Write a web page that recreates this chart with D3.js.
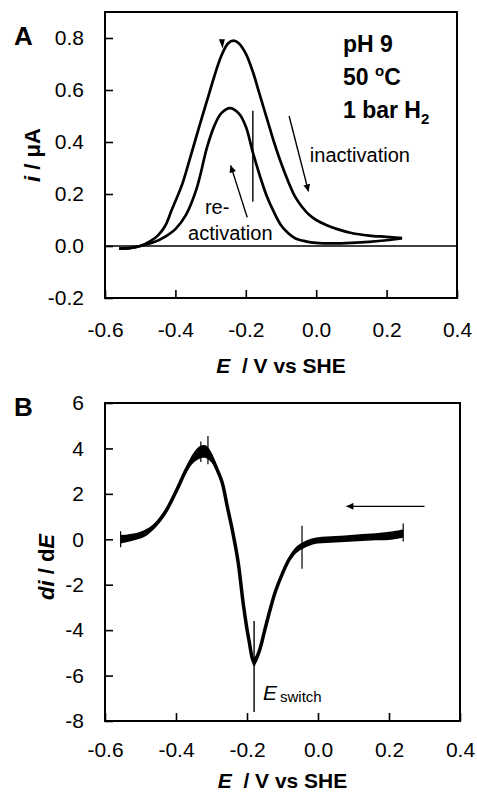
<!DOCTYPE html>
<html>
<head>
<meta charset="utf-8">
<script src="https://cdn.jsdelivr.net/npm/d3@7"></script>
<style>
  body { margin: 0; background: #fff; }
  svg { display: block; font-family: Arial, "Liberation Sans", sans-serif; }
</style>
</head>
<body>
<svg id="chart" width="477" height="796"></svg>
<script>
// panel A: cyclic voltammogram, forward (inactivation) and return (re-activation) sweeps
const eForward = [-0.56, -0.53, -0.50, -0.47, -0.45, -0.43, -0.41, -0.38, -0.36, -0.33, -0.31, -0.29, -0.27, -0.25, -0.235, -0.22, -0.20, -0.18, -0.16, -0.14, -0.12, -0.10, -0.08, -0.06, -0.04, -0.02, 0.0, 0.03, 0.06, 0.10, 0.15, 0.20, 0.244];
const iForward = [-0.01, -0.008, 0.0, 0.02, 0.04, 0.075, 0.14, 0.24, 0.33, 0.47, 0.56, 0.65, 0.73, 0.78, 0.79, 0.78, 0.74, 0.67, 0.58, 0.49, 0.40, 0.32, 0.25, 0.19, 0.15, 0.12, 0.10, 0.08, 0.065, 0.05, 0.04, 0.035, 0.03];
const eReturn = [0.244, 0.20, 0.15, 0.10, 0.05, 0.0, -0.03, -0.06, -0.08, -0.10, -0.12, -0.14, -0.16, -0.18, -0.20, -0.22, -0.245, -0.27, -0.29, -0.31, -0.34, -0.37, -0.40, -0.43, -0.46, -0.50, -0.53, -0.56];
const iReturn = [0.03, 0.022, 0.016, 0.012, 0.01, 0.012, 0.018, 0.03, 0.05, 0.08, 0.13, 0.19, 0.27, 0.36, 0.46, 0.51, 0.53, 0.51, 0.46, 0.38, 0.22, 0.12, 0.065, 0.035, 0.015, 0.0, -0.008, -0.01];

// panel B: derivative di/dE, with the read-off half width of its noise band
const eDeriv = [-0.556, -0.52, -0.49, -0.46, -0.43, -0.40, -0.37, -0.35, -0.33, -0.315, -0.30, -0.285, -0.27, -0.255, -0.24, -0.225, -0.21, -0.195, -0.18, -0.165, -0.15, -0.135, -0.12, -0.10, -0.08, -0.06, -0.04, -0.02, 0.0, 0.05, 0.10, 0.15, 0.20, 0.24];
const dDeriv = [0.0, 0.1, 0.25, 0.6, 1.2, 2.1, 3.1, 3.6, 3.85, 3.85, 3.6, 3.1, 2.5, 1.4, 0.3, -1.0, -2.9, -4.4, -5.4, -4.9, -4.0, -3.1, -2.3, -1.5, -0.85, -0.45, -0.25, -0.12, -0.05, 0.0, 0.05, 0.1, 0.15, 0.25];
const dNoise = [0.18, 0.15, 0.15, 0.12, 0.12, 0.12, 0.15, 0.22, 0.28, 0.28, 0.22, 0.15, 0.12, 0.1, 0.1, 0.1, 0.1, 0.12, 0.2, 0.12, 0.1, 0.1, 0.1, 0.12, 0.12, 0.14, 0.14, 0.14, 0.14, 0.14, 0.15, 0.15, 0.18, 0.18];
// a few visible noise spikes [E, low, high]
const spikes = [[-0.556, -0.35, 0.35], [-0.33, 3.4, 4.3], [-0.31, 3.3, 4.55], [-0.045, -1.3, 0.6], [0.24, -0.1, 0.7]];

const xTicks = [-0.6, -0.4, -0.2, 0.0, 0.2, 0.4];
const yTicksA = [-0.2, 0.0, 0.2, 0.4, 0.6, 0.8];
const yTicksB = [-8, -6, -4, -2, 0, 2, 4, 6];

const eSwitch = -0.18;

const svg = d3.select("#chart");

const defs = svg.append("defs");
defs.append("marker")
  .attr("id", "head")
  .attr("viewBox", "0 0 10 10")
  .attr("refX", 10).attr("refY", 5)
  .attr("markerWidth", 9).attr("markerHeight", 7)
  .attr("markerUnits", "userSpaceOnUse")
  .attr("orient", "auto")
  .append("path")
  .attr("d", "M0,0L10,5L0,10Z")
  .attr("fill", "#000");

// plain hyphen for negatives, as in the original figure
const hyphen = f => d => f(d).replace("\u2212", "-");

function makePanel(box, yDomain, yTicks, yFormat) {
  const x = d3.scaleLinear().domain([-0.6, 0.4]).range([box.left, box.right]);
  const y = d3.scaleLinear().domain(yDomain).range([box.bottom, box.top]);
  const g = svg.append("g");

  g.append("g")
    .attr("transform", `translate(0,${box.bottom})`)
    .call(d3.axisBottom(x).tickValues(xTicks).tickSizeInner(-8).tickSizeOuter(0).tickPadding(box.xPad).tickFormat(hyphen(d3.format(".1f"))))
    .call(ax => ax.select(".domain").remove())
    .call(ax => ax.selectAll("line").attr("stroke-width", 1.6))
    .call(ax => ax.selectAll("text").attr("font-size", 21).attr("fill", "#000").attr("font-family", "Arial, 'Liberation Sans', sans-serif"));

  g.append("g")
    .attr("transform", `translate(${box.left},0)`)
    .call(d3.axisLeft(y).tickValues(yTicks).tickSizeInner(-8).tickSizeOuter(0).tickPadding(21).tickFormat(hyphen(yFormat)))
    .call(ax => ax.select(".domain").remove())
    .call(ax => ax.selectAll("line").attr("stroke-width", 1.6))
    .call(ax => ax.selectAll("text").attr("font-size", 21).attr("fill", "#000").attr("font-family", "Arial, 'Liberation Sans', sans-serif"));

  g.append("rect")
    .attr("x", box.left).attr("y", box.top)
    .attr("width", box.right - box.left).attr("height", box.bottom - box.top)
    .attr("fill", "none").attr("stroke", "#000").attr("stroke-width", 2);

  // x title
  const xt = g.append("text")
    .attr("x", (box.left + box.right) / 2).attr("y", box.xTitleY)
    .attr("text-anchor", "middle").attr("font-size", 21).attr("font-weight", "bold");
  xt.append("tspan").attr("font-style", "italic").text("E");
  xt.append("tspan").attr("xml:space", "preserve").text("  / V vs SHE");

  // panel letter
  g.append("text")
    .attr("x", 14).attr("y", box.letterY)
    .attr("font-size", 26).attr("font-weight", "bold")
    .text(box.letter);

  return { x, y, g };
}

// ---------- panel A ----------
const A = makePanel({ left: 105, right: 457, top: 12, bottom: 298, xPad: 24, xTitleY: 373, letterY: 45, letter: "A" },
  [-0.2, 0.9], yTicksA, d3.format(".1f"));

A.g.append("line")
  .attr("x1", A.x(-0.6)).attr("x2", A.x(0.4))
  .attr("y1", A.y(0)).attr("y2", A.y(0))
  .attr("stroke", "#000").attr("stroke-width", 1.4);

const lineA = d3.line().x(d => A.x(d[0])).y(d => A.y(d[1])).curve(d3.curveCatmullRom.alpha(0.5));

A.g.append("path")
  .datum(eForward.map((e, i) => [e, iForward[i]]))
  .attr("d", lineA).attr("fill", "none").attr("stroke", "#000").attr("stroke-width", 2.7);

A.g.append("path")
  .datum(eReturn.map((e, i) => [e, iReturn[i]]))
  .attr("d", lineA).attr("fill", "none").attr("stroke", "#000").attr("stroke-width", 2.7);

// small arrow tip on the outer peak
A.g.append("path")
  .attr("d", `M${A.x(-0.268) - 3},${A.y(0.795)}L${A.x(-0.268) + 3},${A.y(0.795)}L${A.x(-0.266)},${A.y(0.76)}Z`)
  .attr("fill", "#000");

// switch potential marker
A.g.append("line")
  .attr("x1", A.x(eSwitch)).attr("x2", A.x(eSwitch))
  .attr("y1", A.y(0.17)).attr("y2", A.y(0.52))
  .attr("stroke", "#000").attr("stroke-width", 1.4);

// arrows
A.g.append("line")
  .attr("x1", A.x(-0.077)).attr("y1", A.y(0.50))
  .attr("x2", A.x(-0.022)).attr("y2", A.y(0.21))
  .attr("stroke", "#000").attr("stroke-width", 1.4).attr("marker-end", "url(#head)");
A.g.append("line")
  .attr("x1", A.x(-0.196)).attr("y1", A.y(0.11))
  .attr("x2", A.x(-0.243)).attr("y2", A.y(0.31))
  .attr("stroke", "#000").attr("stroke-width", 1.4).attr("marker-end", "url(#head)");

A.g.append("text").attr("x", A.x(-0.018)).attr("y", A.y(0.323)).attr("font-size", 20).text("inactivation");
A.g.append("text").attr("x", A.x(-0.316)).attr("y", A.y(0.123)).attr("font-size", 20).text("re-");
A.g.append("text").attr("x", A.x(-0.364)).attr("y", A.y(0.023)).attr("font-size", 20).text("activation");

const cond = A.g.append("g").attr("font-size", 23).attr("font-weight", "bold");
cond.append("text").attr("x", 343).attr("y", 52).text("pH 9");
const deg = cond.append("text").attr("x", 343).attr("y", 85);
deg.append("tspan").text("50 ");
deg.append("tspan").attr("font-size", 15).attr("dy", -9).text("o");
deg.append("tspan").attr("dy", 9).text("C");
const h2 = cond.append("text").attr("x", 343).attr("y", 118);
h2.append("tspan").text("1 bar H");
h2.append("tspan").attr("font-size", 15).attr("dy", 6).text("2");

// y title A
const ytA = A.g.append("text")
  .attr("transform", "translate(40,155) rotate(-90)")
  .attr("text-anchor", "middle").attr("font-size", 22).attr("font-weight", "bold");
ytA.append("tspan").attr("font-style", "italic").text("i");
ytA.append("tspan").attr("xml:space", "preserve").text(" / \u03bcA");

// ---------- panel B ----------
const B = makePanel({ left: 105, right: 460, top: 403, bottom: 721, xPad: 21, xTitleY: 788, letterY: 416, letter: "B" },
  [-8, 6], yTicksB, d3.format("d"));

const derivData = eDeriv.map((e, i) => [e, dDeriv[i], dNoise[i]]);

B.g.append("path")
  .datum(derivData)
  .attr("d", d3.area().x(d => B.x(d[0])).y0(d => B.y(d[1] - d[2])).y1(d => B.y(d[1] + d[2])).curve(d3.curveCatmullRom.alpha(0.5)))
  .attr("fill", "#000");

B.g.append("path")
  .datum(derivData)
  .attr("d", d3.line().x(d => B.x(d[0])).y(d => B.y(d[1])).curve(d3.curveCatmullRom.alpha(0.5)))
  .attr("fill", "none").attr("stroke", "#000").attr("stroke-width", 3.5)
  .attr("stroke-linejoin", "round");

B.g.selectAll(".spike")
  .data(spikes)
  .join("line")
  .attr("class", "spike")
  .attr("x1", d => B.x(d[0])).attr("x2", d => B.x(d[0]))
  .attr("y1", d => B.y(d[1])).attr("y2", d => B.y(d[2]))
  .attr("stroke", "#000").attr("stroke-width", 1.2);

B.g.append("line")
  .attr("x1", B.x(eSwitch)).attr("x2", B.x(eSwitch))
  .attr("y1", B.y(-3.6)).attr("y2", B.y(-7.6))
  .attr("stroke", "#000").attr("stroke-width", 1.4);

B.g.append("line")
  .attr("x1", B.x(0.30)).attr("y1", B.y(1.45))
  .attr("x2", B.x(0.08)).attr("y2", B.y(1.45))
  .attr("stroke", "#000").attr("stroke-width", 1.4).attr("marker-end", "url(#head)");

const es = B.g.append("text").attr("x", B.x(-0.155)).attr("y", 700).attr("font-size", 21);
es.append("tspan").attr("font-style", "italic").text("E");
es.append("tspan").attr("font-size", 15).attr("dx", 3).attr("dy", 2).text("switch");

const ytB = B.g.append("text")
  .attr("transform", "translate(54,567) rotate(-90)")
  .attr("text-anchor", "middle").attr("font-size", 22).attr("font-weight", "bold");
ytB.append("tspan").attr("font-style", "italic").text("di");
ytB.append("tspan").attr("xml:space", "preserve").text(" / d");
ytB.append("tspan").attr("font-style", "italic").text("E");
</script>
</body>
</html>
